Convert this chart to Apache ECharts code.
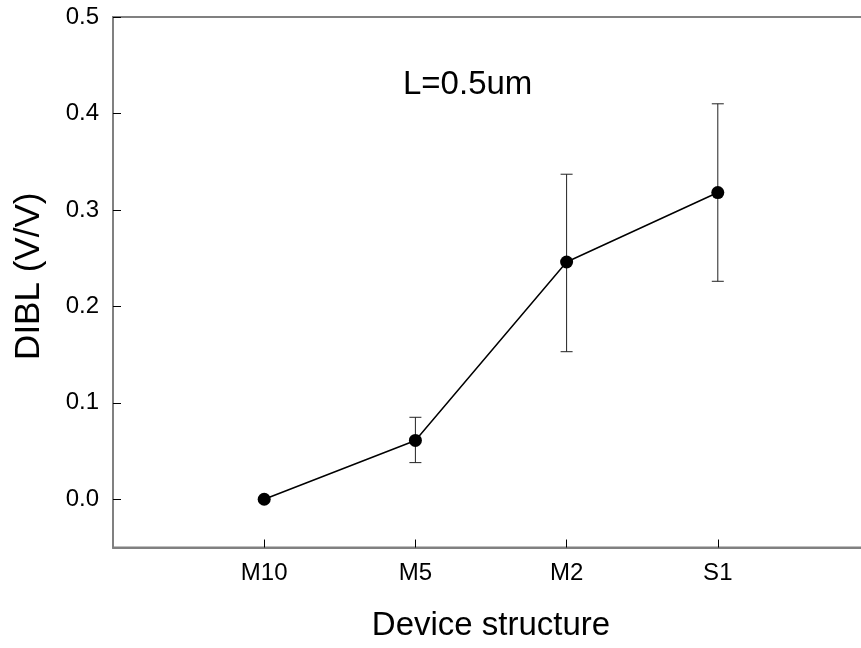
<!DOCTYPE html>
<html>
<head>
<meta charset="utf-8">
<script src="https://cdn.jsdelivr.net/npm/echarts@6/dist/echarts.min.js"></script>
<style>html,body{margin:0;padding:0;background:#fff}#c{width:861px;height:648px}</style>
</head>
<body>
<div id="c"></div>
<script>
var categories = ['M10', 'M5', 'M2', 'S1'];
var dibl = [0.0, 0.061, 0.246, 0.318];
var errLow = [null, 0.038, 0.153, 0.226];
var errHigh = [null, 0.085, 0.337, 0.410];
var yTicks = [0.0, 0.1, 0.2, 0.3, 0.4, 0.5];
var annotation = 'L=0.5um';

var FONT = "'Liberation Sans', Arial, sans-serif";
var xPos = categories.map(function (c, i) { return i + 1; });
var lineData = dibl.map(function (v, i) { return [xPos[i], v]; });
var errData = [];
for (var i = 0; i < categories.length; i++) {
  if (errLow[i] != null) errData.push([xPos[i], errLow[i], errHigh[i]]);
}

var chart = echarts.init(document.getElementById('c'), null, {renderer: 'canvas'});
chart.setOption({
  animation: false,
  backgroundColor: '#fff',
  title: {
    text: annotation,
    left: 398, top: 63,
    textStyle: {fontFamily: FONT, fontSize: 33, fontWeight: 'normal', color: '#000'}
  },
  grid: {
    left: 113, top: 17, width: 756, bottom: 100.5,
    outerBoundsMode: 'none', containLabel: false,
    show: true, borderColor: '#808080', borderWidth: 2, backgroundColor: 'transparent'
  },
  xAxis: {
    type: 'value', min: 0, max: 5, interval: 1,
    name: 'Device structure', nameLocation: 'middle', nameGap: 62,
    nameTextStyle: {fontFamily: FONT, fontSize: 33, color: '#000'},
    axisLine: {show: true, onZero: false, lineStyle: {color: '#808080', width: 2}},
    axisTick: {show: true, inside: true, length: 8, lineStyle: {color: '#000', width: 1}, customValues: xPos},
    axisLabel: {
      fontFamily: FONT, fontSize: 24, color: '#000', margin: 14,
      customValues: xPos,
      formatter: function (v) { return categories[Math.round(v) - 1] || ''; }
    },
    splitLine: {show: false}
  },
  yAxis: {
    type: 'value', min: -0.05, max: 0.5,
    name: 'DIBL (V/V)', nameLocation: 'middle', nameGap: 66, nameRotate: 90,
    nameTextStyle: {fontFamily: FONT, fontSize: 35, color: '#000', padding: [0, 0, 0, 12]},
    axisLine: {show: true, onZero: false, lineStyle: {color: '#808080', width: 2}},
    axisTick: {show: true, inside: true, length: 8, lineStyle: {color: '#000', width: 1}, customValues: yTicks},
    axisLabel: {
      fontFamily: FONT, fontSize: 24, color: '#000', margin: 14,
      customValues: yTicks,
      formatter: function (v) { return v.toFixed(1); }
    },
    splitLine: {show: false}
  },
  series: [
    {
      type: 'custom',
      data: errData,
      z: 3,
      renderItem: function (params, api) {
        var x = api.value(0);
        var lo = api.coord([x, api.value(1)]);
        var hi = api.coord([x, api.value(2)]);
        var hw = 6;
        var st = {stroke: '#222', lineWidth: 1};
        return {
          type: 'group',
          children: [
            {type: 'line', shape: {x1: lo[0], y1: lo[1], x2: hi[0], y2: hi[1]}, style: st},
            {type: 'line', shape: {x1: lo[0] - hw, y1: lo[1], x2: lo[0] + hw, y2: lo[1]}, style: st},
            {type: 'line', shape: {x1: hi[0] - hw, y1: hi[1], x2: hi[0] + hw, y2: hi[1]}, style: st}
          ]
        };
      }
    },
    {
      type: 'line',
      data: lineData,
      z: 4,
      symbol: 'circle', symbolSize: 13,
      lineStyle: {color: '#000', width: 1.5},
      itemStyle: {color: '#000'}
    }
  ]
});
</script>
</body>
</html>
